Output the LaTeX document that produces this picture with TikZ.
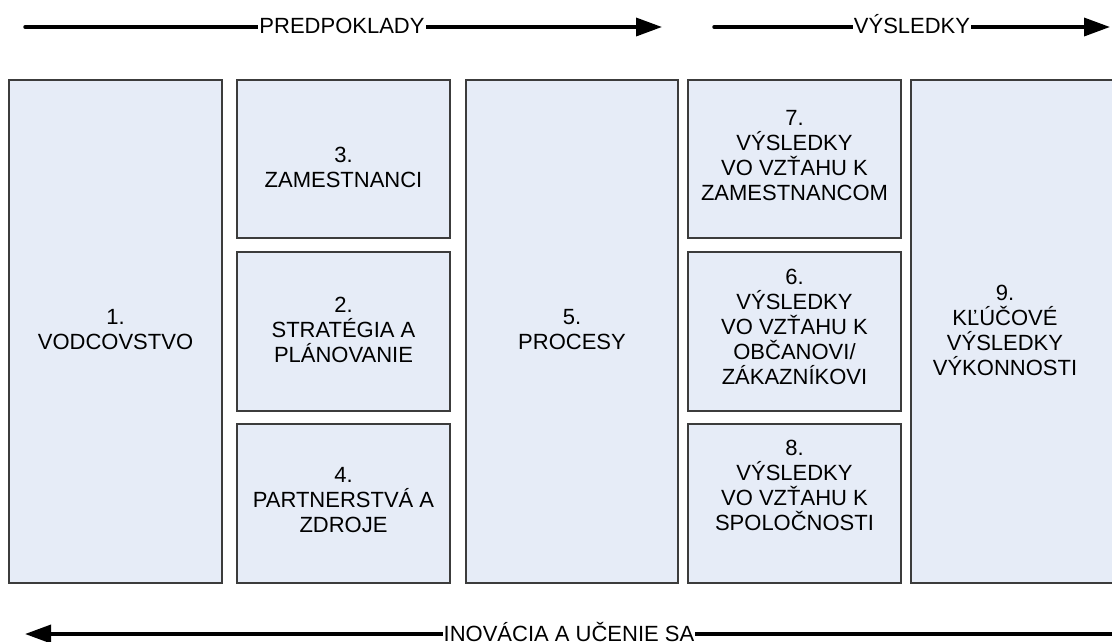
\documentclass[tikz,border=0pt]{standalone}
\usepackage{fontspec}
\setmainfont{Liberation Sans}
\usetikzlibrary{arrows.meta}
\definecolor{boxfill}{RGB}{230,236,247}
\definecolor{boxline}{RGB}{60,60,60}
\begin{document}
\begin{tikzpicture}[x=1pt,y=-1pt,
  box/.style={draw=boxline, fill=boxfill, line width=1.2pt, inner sep=0pt},
  boxtext/.style={inner sep=0pt, align=center, anchor=north, font=\fontsize{22}{25}\selectfont},
  flow/.style={line width=3.5pt, -{Triangle[length=26pt,width=18pt]}, line cap=round},
  lbl/.style={fill=white, inner xsep=1pt, inner ysep=2pt, text height=15.5pt, text depth=0pt,
              font=\fontsize{22}{25}\selectfont}]
\useasboundingbox (0,0) rectangle (1112,641);

% boxes
\node[box, minimum width=213pt, minimum height=503pt] (b1) at (115.5,331.5) {};
\node[box, minimum width=213pt, minimum height=158pt] (b3) at (343.5,159) {};
\node[box, minimum width=213pt, minimum height=159pt] (b2) at (343.5,331.5) {};
\node[box, minimum width=213pt, minimum height=159pt] (b4) at (343.5,503.5) {};
\node[box, minimum width=212pt, minimum height=503pt] (b5) at (572,331.5) {};
\node[box, minimum width=213pt, minimum height=158pt] (b7) at (794.5,159) {};
\node[box, minimum width=213pt, minimum height=159pt] (b6) at (794.5,331.5) {};
\node[box, minimum width=213pt, minimum height=159pt] (b8) at (794.5,503.5) {};
\node[box, minimum width=211pt, minimum height=503pt] (b9) at (1016.5,331.5) {};

% texts (north anchor = top of first line)
\node[boxtext] (t1) at (115.5,309.5) {1.\\VODCOVSTVO};
\node[boxtext] (t3) at (343.5,147) {3.\\ZAMESTNANCI};
\node[boxtext] (t2) at (343.5,297) {2.\\STRATÉGIA A\\PLÁNOVANIE};
\node[boxtext] (t4) at (343.5,467) {4.\\PARTNERSTVÁ A\\ZDROJE};
\node[boxtext] (t5) at (572,309.5) {5.\\PROCESY};
\node[boxtext] (t7) at (794.5,110) {7.\\VÝSLEDKY\\VO VZŤAHU K\\ZAMESTNANCOM};
\node[boxtext] (t6) at (794.5,269) {6.\\VÝSLEDKY\\VO VZŤAHU K\\OBČANOVI/\\ZÁKAZNÍKOVI};
\node[boxtext] (t8) at (794.5,440) {8.\\VÝSLEDKY\\VO VZŤAHU K\\SPOLOČNOSTI};
\node[boxtext] (t9) at (1005,285) {9.\\KĽÚČOVÉ\\VÝSLEDKY\\VÝKONNOSTI};

% top arrows
\coordinate (p0) at (25,27);
\coordinate (p1) at (662,27);
\draw[flow] (p0) -- (p1);
\node[lbl] (pl) at (342,26) {PREDPOKLADY};

\coordinate (r0) at (714,27);
\coordinate (r1) at (1110,27);
\draw[flow] (r0) -- (r1);
\node[lbl] (rl) at (912,26) {VÝSLEDKY};

% bottom arrow
\coordinate (q0) at (1125,634);
\coordinate (q1) at (25,634);
\draw[flow] (q0) -- (q1);
\node[lbl] (ql) at (569,634) {INOVÁCIA A UČENIE SA};
\end{tikzpicture}
\end{document}
